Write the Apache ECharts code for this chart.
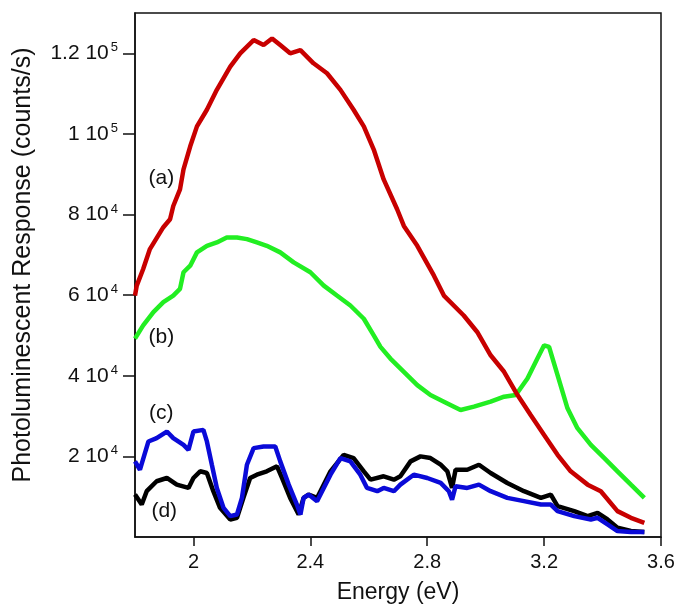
<!DOCTYPE html>
<html>
<head>
<meta charset="utf-8" />
<title>Photoluminescent Response</title>
<script src="https://cdn.jsdelivr.net/npm/echarts@6/dist/echarts.min.js"></script>
<style>
  html, body { margin: 0; padding: 0; background: #fff; }
  #chart { width: 679px; height: 609px; }
</style>
</head>
<body>
<div id="chart"></div>
<script>
// spectra, [energy (eV), counts/s]
const curveA = [
  [1.8, 59900], [1.806, 62370], [1.828, 66490], [1.851, 71430], [1.897, 76860],
  [1.92, 78840], [1.931, 82120], [1.954, 86240], [1.966, 91180], [1.989, 96930],
  [2.012, 101870], [2.046, 106000], [2.08, 110930], [2.126, 116690], [2.16, 120000],
  [2.206, 123280], [2.24, 122040], [2.269, 123700], [2.297, 122040], [2.331, 120000],
  [2.366, 120810], [2.411, 117520], [2.457, 115060], [2.503, 110930], [2.548, 106000],
  [2.583, 101870], [2.617, 96120], [2.651, 88710], [2.697, 81310], [2.72, 77180],
  [2.766, 72240], [2.823, 64840], [2.857, 59900], [2.925, 54960], [2.971, 50860],
  [3.017, 45080], [3.063, 40990], [3.109, 35210], [3.154, 30270], [3.2, 25330],
  [3.246, 20390], [3.291, 16300], [3.349, 12990], [3.394, 11360], [3.451, 6420],
  [3.497, 4770], [3.543, 3530]
];
const curveB = [
  [1.8, 49210], [1.828, 52490], [1.863, 55800], [1.897, 58270], [1.931, 59900],
  [1.954, 61550], [1.966, 65680], [1.989, 67310], [2.012, 70610], [2.046, 72240],
  [2.08, 73080], [2.114, 74320], [2.149, 74320], [2.183, 73900], [2.217, 73080],
  [2.251, 72240], [2.297, 70610], [2.343, 68140], [2.4, 65680], [2.446, 62370],
  [2.491, 59900], [2.537, 57430], [2.583, 54150], [2.617, 50020], [2.64, 47160],
  [2.674, 44270], [2.72, 40990], [2.766, 37680], [2.811, 35210], [2.857, 33580],
  [2.914, 31500], [2.96, 32340], [3.017, 33580], [3.063, 34810], [3.103, 35210],
  [3.143, 39330], [3.177, 44270], [3.2, 47550], [3.217, 47160], [3.246, 40150],
  [3.28, 31920], [3.314, 26990], [3.36, 22860], [3.406, 19580], [3.451, 16300],
  [3.497, 12990], [3.543, 9700]
];
const curveC = [
  [1.8, 18760], [1.817, 16690], [1.846, 23700], [1.874, 24520], [1.909, 26170],
  [1.931, 24520], [1.966, 22860], [1.983, 21630], [2.0, 26170], [2.034, 26570],
  [2.046, 23700], [2.063, 17930], [2.08, 12170], [2.103, 7230], [2.126, 5180],
  [2.149, 5580], [2.166, 9700], [2.183, 17930], [2.206, 22050], [2.24, 22470],
  [2.28, 22470], [2.297, 18760], [2.326, 12990], [2.354, 8050], [2.366, 5580],
  [2.377, 9700], [2.394, 10520], [2.423, 8890], [2.446, 12170], [2.469, 15460],
  [2.503, 19580], [2.537, 18760], [2.571, 15460], [2.594, 12170], [2.629, 11360],
  [2.651, 12170], [2.686, 11360], [2.708, 12990], [2.754, 15460], [2.8, 14640],
  [2.846, 13410], [2.874, 11360], [2.885, 9280], [2.897, 12590], [2.937, 12170],
  [2.977, 12990], [3.017, 11360], [3.074, 9700], [3.131, 8890], [3.189, 8050],
  [3.223, 8050], [3.246, 6420], [3.303, 5180], [3.36, 4350], [3.383, 4770],
  [3.417, 3110], [3.451, 1480], [3.497, 1230], [3.543, 1230]
];
const curveD = [
  [1.8, 10520], [1.823, 8050], [1.84, 11360], [1.874, 13830], [1.909, 14640],
  [1.943, 12990], [1.983, 12170], [2.0, 14640], [2.023, 16300], [2.046, 15880],
  [2.068, 11360], [2.091, 7230], [2.126, 4350], [2.149, 4770], [2.171, 9700],
  [2.194, 14640], [2.217, 15460], [2.251, 16300], [2.286, 17530], [2.303, 14640],
  [2.331, 9700], [2.36, 5580], [2.377, 9700], [2.394, 10520], [2.423, 9700],
  [2.469, 16300], [2.514, 20390], [2.548, 19580], [2.583, 16300], [2.606, 14220],
  [2.651, 15060], [2.686, 14220], [2.708, 15060], [2.743, 18760], [2.777, 20000],
  [2.811, 19580], [2.846, 17930], [2.869, 16300], [2.885, 12170], [2.897, 16690],
  [2.937, 16690], [2.977, 17930], [3.017, 15880], [3.074, 13410], [3.131, 11360],
  [3.189, 9700], [3.223, 10520], [3.246, 7650], [3.303, 6420], [3.349, 5180],
  [3.383, 6000], [3.417, 4350], [3.451, 2300], [3.497, 1480], [3.543, 1230]
];

// curve tags, placed in data coordinates
const tagNames = ["(a)", "(b)", "(c)", "(d)"];
const tagSpots = [[1.89, 89100], [1.89, 49600], [1.89, 30700], [1.9, 6400]];

const xTicks = [2, 2.4, 2.8, 3.2, 3.6];
const yTicks = [20000, 40000, 60000, 80000, 100000, 120000];

const FONT = "Liberation Sans";

// "1.2 10^5" style labels
const sciLabel = (v) => {
  if (!yTicks.includes(v)) return "";
  const exp = Math.floor(Math.log10(v));
  const mant = +(v / Math.pow(10, exp)).toFixed(1);
  return mant + " 10{e|" + exp + "}";
};

const makeSeries = (name, data, color, tagIdx) => ({
  name: name,
  type: "line",
  data: data,
  showSymbol: false,
  symbol: "none",
  lineStyle: { color: color, width: 4.5 },
  z: 3,
  markPoint: {
    symbol: "circle",
    symbolSize: 0,
    silent: true,
    label: {
      show: true,
      formatter: tagNames[tagIdx],
      color: "#111",
      fontFamily: FONT,
      fontSize: 21,
      position: "inside",
    },
    data: [{ coord: tagSpots[tagIdx] }],
  },
});

const chart = echarts.init(document.getElementById("chart"), null, { renderer: "canvas" });

chart.setOption({
  animation: false,
  backgroundColor: "#fff",
  grid: {
    left: 135,
    right: 18,
    top: 13,
    bottom: 70,
    show: true,
    borderColor: "#111",
    borderWidth: 1.5,
  },
  xAxis: {
    type: "value",
    min: 1.8,
    max: 3.6,
    name: "Energy (eV)",
    nameLocation: "middle",
    nameGap: 44,
    nameTextStyle: { fontFamily: FONT, fontSize: 23, color: "#111" },
    axisLine: { show: true, lineStyle: { color: "#111", width: 1.5 } },
    axisTick: {
      show: true,
      inside: false,
      length: 9,
      lineStyle: { color: "#111", width: 1.5 },
      customValues: xTicks,
    },
    axisLabel: {
      margin: 15,
      fontFamily: FONT,
      fontSize: 20,
      color: "#111",
      customValues: xTicks,
      formatter: (v) => String(+v.toFixed(1)),
    },
    splitLine: { show: false },
  },
  yAxis: {
    type: "value",
    min: 0,
    max: 130000,
    interval: 20000,
    name: "Photoluminescent Response (counts/s)",
    nameLocation: "middle",
    nameGap: 99,
    // left padding nudges the rotated title upward a little
    nameTextStyle: { fontFamily: FONT, fontSize: 25, color: "#111", padding: [0, 0, 0, 20] },
    axisLine: { show: true, lineStyle: { color: "#111", width: 1.5 } },
    axisTick: {
      show: true,
      inside: false,
      length: 12,
      lineStyle: { color: "#111", width: 1.5 },
      customValues: yTicks,
    },
    axisLabel: {
      margin: 17,
      fontFamily: FONT,
      fontSize: 21,
      color: "#111",
      customValues: yTicks,
      formatter: sciLabel,
      rich: {
        e: { fontFamily: FONT, fontSize: 13, color: "#111", padding: [0, 0, 11, 2] },
      },
    },
    splitLine: { show: false },
  },
  series: [
    makeSeries("d", curveD, "#000000", 3),
    makeSeries("c", curveC, "#0a0ad8", 2),
    makeSeries("b", curveB, "#22ee22", 1),
    makeSeries("a", curveA, "#c80000", 0),
  ],
});
</script>
</body>
</html>
